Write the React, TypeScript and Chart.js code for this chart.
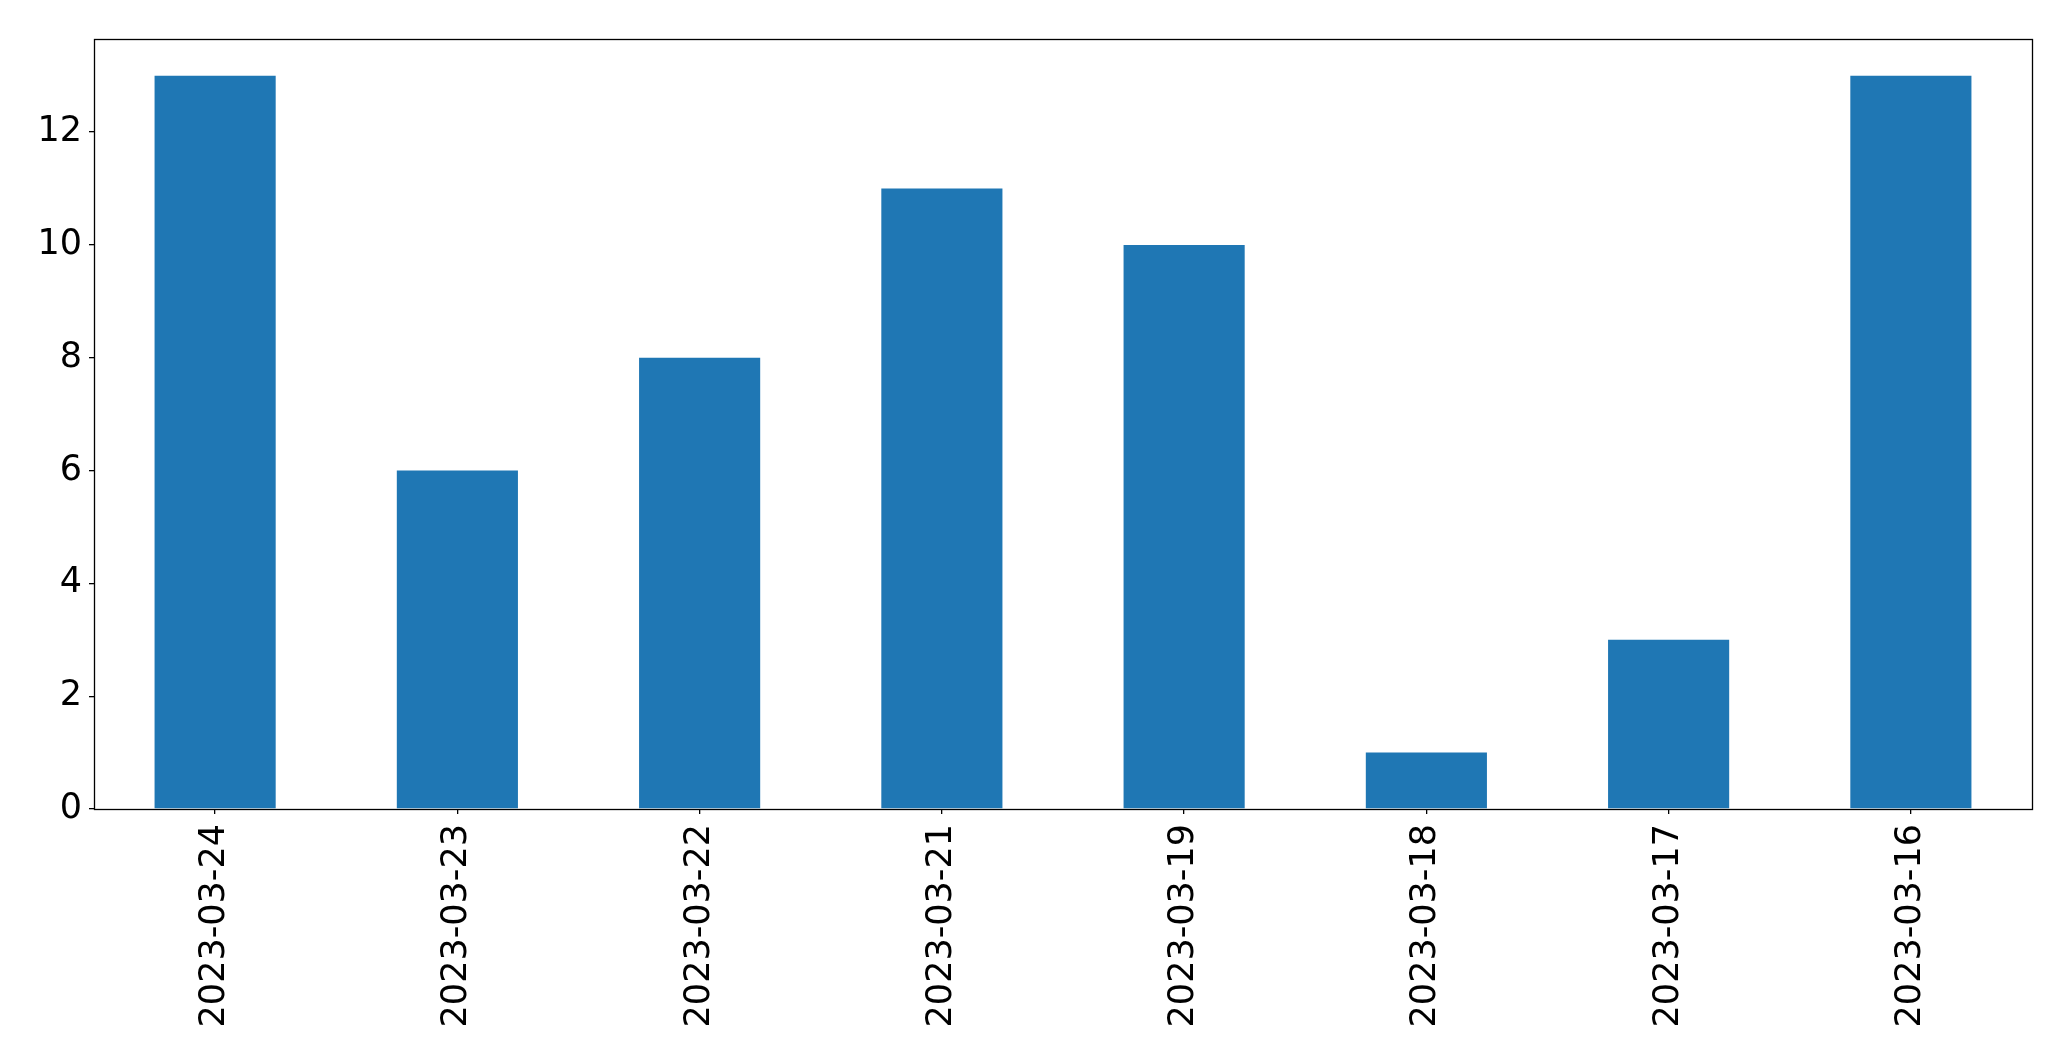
import React, { useEffect, useRef } from "react";
import { Chart, registerables } from "chart.js";

Chart.register(...registerables);

const categories = ["2023-03-24", "2023-03-23", "2023-03-22", "2023-03-21", "2023-03-19", "2023-03-18", "2023-03-17", "2023-03-16"];
const counts = [13, 6, 8, 11, 10, 1, 3, 13];
const yTicks = [0, 2, 4, 6, 8, 10, 12];

const frame = {
  id: "frame",
  afterDraw(chart: any) {
    const { ctx, chartArea } = chart;
    ctx.save();
    ctx.strokeStyle = "#000";
    ctx.lineWidth = 1.3;
    ctx.strokeRect(chartArea.left + 0.5, chartArea.top + 0.5, chartArea.right - chartArea.left, chartArea.bottom - chartArea.top);
    ctx.restore();
  },
};

export default function App() {
  const ref = useRef<HTMLCanvasElement>(null);
  useEffect(() => {
    document.body.style.margin = "0";
    const chart = new Chart(ref.current!, {
      type: "bar",
      data: {
        labels: categories,
        datasets: [
          {
            data: counts,
            backgroundColor: "#1f77b4",
            borderWidth: 0,
            categoryPercentage: 1,
            barPercentage: 0.5,
          },
        ],
      },
      options: {
        animation: false,
        responsive: false,
        maintainAspectRatio: false,
        layout: { padding: { top: 39, right: 39, left: 0, bottom: 0 } },
        plugins: { legend: { display: false }, tooltip: { enabled: false } },
        scales: {
          x: {
            offset: true,
            border: { display: false },
            grid: { display: true, offset: false, drawOnChartArea: false, drawTicks: true, tickLength: 5, tickColor: "#000", lineWidth: 1.3 },
            ticks: {
              color: "#000",
              font: { family: "DejaVu Sans", size: 35 },
              minRotation: 90,
              maxRotation: 90,
              padding: 10,
              autoSkip: false,
            },
            afterFit: (s: any) => {
              s.height = 252;
            },
          },
          y: {
            min: 0,
            max: 13.65,
            border: { display: false },
            grid: { display: true, drawOnChartArea: false, drawTicks: true, tickLength: 5, tickColor: "#000", lineWidth: 1.3 },
            ticks: {
              color: "#000",
              font: { family: "DejaVu Sans", size: 35 },
              padding: 7,
              includeBounds: false,
            },
            afterBuildTicks: (s: any) => {
              s.ticks = yTicks.map((v) => ({ value: v }));
            },
            afterFit: (s: any) => {
              s.width = 94;
            },
          },
        },
      },
      plugins: [frame],
    });
    return () => chart.destroy();
  }, []);
  return (
    <div style={{ position: "fixed", left: 0, top: 0, width: 2071, height: 1061, background: "#fff" }}>
      <canvas ref={ref} width={2071} height={1061} style={{ width: 2071, height: 1061 }} />
    </div>
  );
}
